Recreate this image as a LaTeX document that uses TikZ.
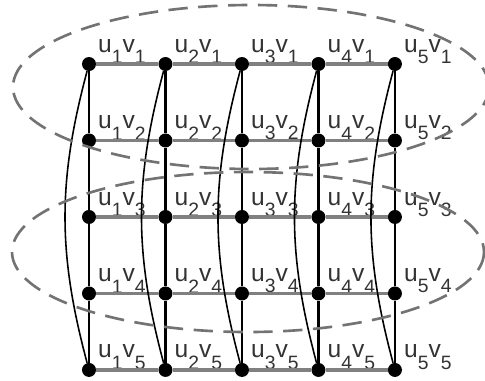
\documentclass[tikz,border=0pt]{standalone}
\usepackage{fontspec}
\setmainfont{Liberation Sans}
\usepackage{tikz}
\newcommand{\ix}[1]{\raisebox{-6.5pt}{\fontsize{11}{11}\selectfont #1}}
\newcommand{\uv}[2]{u\ix{#1}v\ix{#2}}
\tikzstyle{vertex} = [
    circle,
    fill=black,
    inner sep=0pt,
    minimum size=0.28cm
]
\tikzstyle{tag} = [
    anchor=south west,
    inner sep=0pt,
    xshift=0.03cm,
    text=black!80,
    font=\fontsize{14}{16}\selectfont
]
\tikzstyle{rowline} = [line width=1.8pt, black!50]
\tikzstyle{colline} = [line width=1.3pt, black]
\tikzstyle{wrap} = [line width=0.9pt, black]
\tikzstyle{ring} = [
    line width=1.5pt,
    black!55,
    dash pattern=on 11pt off 6pt
]
\begin{document}
\begin{tikzpicture}[x=0.02cm, y=-0.02cm, node distance=1.53cm]

\clip (0,0) rectangle (485,380);

\node (u1v1) [vertex, label={[tag]0:\uv{1}{1}}] at (89,64) {};
\node (u2v1) [vertex, right of=u1v1, label={[tag]0:\uv{2}{1}}] {};
\node (u3v1) [vertex, right of=u2v1, label={[tag]0:\uv{3}{1}}] {};
\node (u4v1) [vertex, right of=u3v1, label={[tag]0:\uv{4}{1}}] {};
\node (u5v1) [vertex, right of=u4v1, label={[tag]0:\uv{5}{1}}] {};

\node (u1v2) [vertex, below of=u1v1, label={[tag]0:\uv{1}{2}}] {};
\node (u2v2) [vertex, right of=u1v2, label={[tag]0:\uv{2}{2}}] {};
\node (u3v2) [vertex, right of=u2v2, label={[tag]0:\uv{3}{2}}] {};
\node (u4v2) [vertex, right of=u3v2, label={[tag]0:\uv{4}{2}}] {};
\node (u5v2) [vertex, right of=u4v2, label={[tag]0:\uv{5}{2}}] {};

\node (u1v3) [vertex, below of=u1v2, label={[tag]0:\uv{1}{3}}] {};
\node (u2v3) [vertex, right of=u1v3, label={[tag]0:\uv{2}{3}}] {};
\node (u3v3) [vertex, right of=u2v3, label={[tag]0:\uv{3}{3}}] {};
\node (u4v3) [vertex, right of=u3v3, label={[tag]0:\uv{4}{3}}] {};
\node (u5v3) [vertex, right of=u4v3, label={[tag]0:\uv{5}{3}}] {};

\node (u1v4) [vertex, below of=u1v3, label={[tag]0:\uv{1}{4}}] {};
\node (u2v4) [vertex, right of=u1v4, label={[tag]0:\uv{2}{4}}] {};
\node (u3v4) [vertex, right of=u2v4, label={[tag]0:\uv{3}{4}}] {};
\node (u4v4) [vertex, right of=u3v4, label={[tag]0:\uv{4}{4}}] {};
\node (u5v4) [vertex, right of=u4v4, label={[tag]0:\uv{5}{4}}] {};

\node (u1v5) [vertex, below of=u1v4, label={[tag]0:\uv{1}{5}}] {};
\node (u2v5) [vertex, right of=u1v5, label={[tag]0:\uv{2}{5}}] {};
\node (u3v5) [vertex, right of=u2v5, label={[tag]0:\uv{3}{5}}] {};
\node (u4v5) [vertex, right of=u3v5, label={[tag]0:\uv{4}{5}}] {};
\node (u5v5) [vertex, right of=u4v5, label={[tag]0:\uv{5}{5}}] {};

\draw [rowline] (u1v1) -- (u2v1) -- (u3v1) -- (u4v1) -- (u5v1);
\draw [rowline] (u1v2) -- (u2v2) -- (u3v2) -- (u4v2) -- (u5v2);
\draw [rowline] (u1v3) -- (u2v3) -- (u3v3) -- (u4v3) -- (u5v3);
\draw [rowline] (u1v4) -- (u2v4) -- (u3v4) -- (u4v4) -- (u5v4);
\draw [rowline] (u1v5) -- (u2v5) -- (u3v5) -- (u4v5) -- (u5v5);

\draw [colline] (u1v1) -- (u1v2) -- (u1v3) -- (u1v4) -- (u1v5);
\draw [colline] (u2v1) -- (u2v2) -- (u2v3) -- (u2v4) -- (u2v5);
\draw [colline] (u3v1) -- (u3v2) -- (u3v3) -- (u3v4) -- (u3v5);
\draw [colline] (u4v1) -- (u4v2) -- (u4v3) -- (u4v4) -- (u4v5);
\draw [colline] (u5v1) -- (u5v2) -- (u5v3) -- (u5v4) -- (u5v5);

\draw [wrap] (u1v1) to[bend right=15] (u1v5);
\draw [wrap] (u2v1) to[bend right=15] (u2v5);
\draw [wrap] (u3v1) to[bend right=15] (u3v5);
\draw [wrap] (u4v1) to[bend right=15] (u4v5);
\draw [wrap] (u5v1) to[bend right=15] (u5v5);

\draw [ring] (251,87) ellipse [x radius=238, y radius=82];
\draw [ring] (248,252) ellipse [x radius=236, y radius=80];

\end{tikzpicture}
\end{document}
